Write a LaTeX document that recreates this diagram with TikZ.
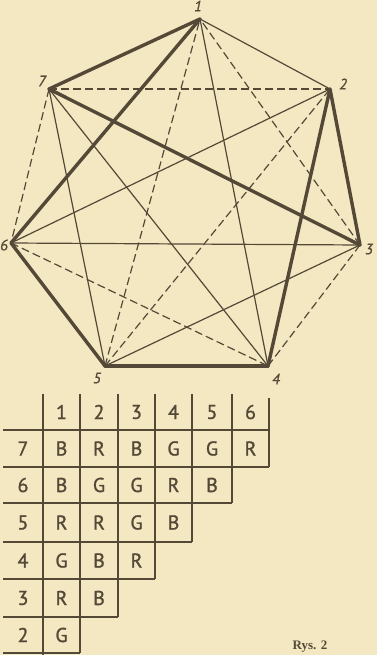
\documentclass[tikz,border=0pt]{standalone}
\usepackage{fontspec}
\setmainfont{PT Sans}
\newfontfamily\cellfont[FakeBold=1.2]{PT Sans}
\newfontfamily\labfont[FakeBold=0.8]{PT Sans}
\newfontfamily\capfont{Liberation Serif}
\definecolor{paper}{HTML}{F4E8C2}
\definecolor{ink}{HTML}{544937}
\begin{document}
\begin{tikzpicture}[x=1pt,y=-1pt,
  thickedge/.style={ink,line width=3.4pt,line cap=round},
  thinedge/.style={ink,line width=1.2pt},
  dashedge/.style={ink,line width=1.2pt,dash pattern=on 8pt off 4pt},
  vlabel/.style={ink,font=\labfont\fontsize{15}{15}\selectfont\itshape},
  cell/.style={ink,font=\cellfont\fontsize{20}{20}\selectfont,inner sep=0pt},
  grid/.style={ink,line width=1.7pt}]
\fill[paper] (0,0) rectangle (377,655);
\useasboundingbox (0,0) rectangle (377,655);
% vertices
\coordinate (v1) at (200,19);
\coordinate (v2) at (330,89);
\coordinate (v3) at (360,245);
\coordinate (v4) at (268,366);
\coordinate (v5) at (105,366);
\coordinate (v6) at (11,243);
\coordinate (v7) at (49,89);
% thin (G)
\draw[thinedge] (v7) -- (v4);
\draw[thinedge] (v7) -- (v5);
\draw[thinedge] (v6) -- (v2);
\draw[thinedge] (v6) -- (v3);
\draw[thinedge] (v5) -- (v3);
\draw[thinedge] (v4) -- (v1);
\draw[thinedge] (v2) -- (v1);
% dashed (R)
\draw[dashedge] (v7) -- (v2);
\draw[dashedge] (v7) -- (v6);
\draw[dashedge] (v6) -- (v4);
\draw[dashedge] (v5) -- (v1);
\draw[dashedge] (v5) -- (v2);
\draw[dashedge] (v4) -- (v3);
\draw[dashedge] (v3) -- (v1);
% thick (B)
\draw[thickedge] (v7) -- (v1);
\draw[thickedge] (v7) -- (v3);
\draw[thickedge] (v6) -- (v1);
\draw[thickedge] (v6) -- (v5);
\draw[thickedge] (v5) -- (v4);
\draw[thickedge] (v4) -- (v2);
\draw[thickedge] (v3) -- (v2);
% vertex labels
\node[vlabel] (l1) at (198,6) {1};
\node[vlabel] (l2) at (343,84) {2};
\node[vlabel] (l3) at (369,249) {3};
\node[vlabel] (l4) at (276,379) {4};
\node[vlabel] (l5) at (97,378) {5};
\node[vlabel] (l6) at (4,245) {6};
\node[vlabel] (l7) at (42,81) {7};
% table grid
\draw[grid] (43,394) -- (43,655);
\draw[grid] (80,394) -- (80,653);
\draw[grid] (118,394) -- (118,617);
\draw[grid] (155,394) -- (155,579);
\draw[grid] (192,394) -- (192,542);
\draw[grid] (232,394) -- (232,503);
\draw[grid] (269,398) -- (269,467);
\draw[grid] (3,430) -- (269,430);
\draw[grid] (3,467) -- (269,467);
\draw[grid] (3,503) -- (232,503);
\draw[grid] (3,542) -- (192,542);
\draw[grid] (3,579) -- (155,579);
\draw[grid] (3,617) -- (118,617);
\draw[grid] (3,653) -- (80,653);
% header
\node[cell] (h1) at (61.5,412) {1};
\node[cell] (h2) at (99,412) {2};
\node[cell] (h3) at (136.5,412) {3};
\node[cell] (h4) at (173.5,412) {4};
\node[cell] (h5) at (212,412) {5};
\node[cell] (h6) at (250.5,412) {6};
% row labels
\node[cell] (r7) at (23,448.5) {7};
\node[cell] (r6) at (23,485) {6};
\node[cell] (r5) at (23,522.5) {5};
\node[cell] (r4) at (23,560.5) {4};
\node[cell] (r3) at (23,598) {3};
\node[cell] (r2) at (23,635) {2};
% row 7
\node[cell] (c71) at (61.5,448.5) {B};
\node[cell] (c72) at (99,448.5) {R};
\node[cell] (c73) at (136.5,448.5) {B};
\node[cell] (c74) at (173.5,448.5) {G};
\node[cell] (c75) at (212,448.5) {G};
\node[cell] (c76) at (250.5,448.5) {R};
% row 6
\node[cell] (c61) at (61.5,485) {B};
\node[cell] (c62) at (99,485) {G};
\node[cell] (c63) at (136.5,485) {G};
\node[cell] (c64) at (173.5,485) {R};
\node[cell] (c65) at (212,485) {B};
% row 5
\node[cell] (c51) at (61.5,522.5) {R};
\node[cell] (c52) at (99,522.5) {R};
\node[cell] (c53) at (136.5,522.5) {G};
\node[cell] (c54) at (173.5,522.5) {B};
% row 4
\node[cell] (c41) at (61.5,560.5) {G};
\node[cell] (c42) at (99,560.5) {B};
\node[cell] (c43) at (136.5,560.5) {R};
% row 3
\node[cell] (c31) at (61.5,598) {R};
\node[cell] (c32) at (99,598) {B};
% row 2
\node[cell] (c21) at (61.5,635) {G};
% caption
\node[ink,font=\capfont\bfseries\fontsize{13}{13}\selectfont] (cap) at (310,647) {Rys. 2};
\end{tikzpicture}
\end{document}
